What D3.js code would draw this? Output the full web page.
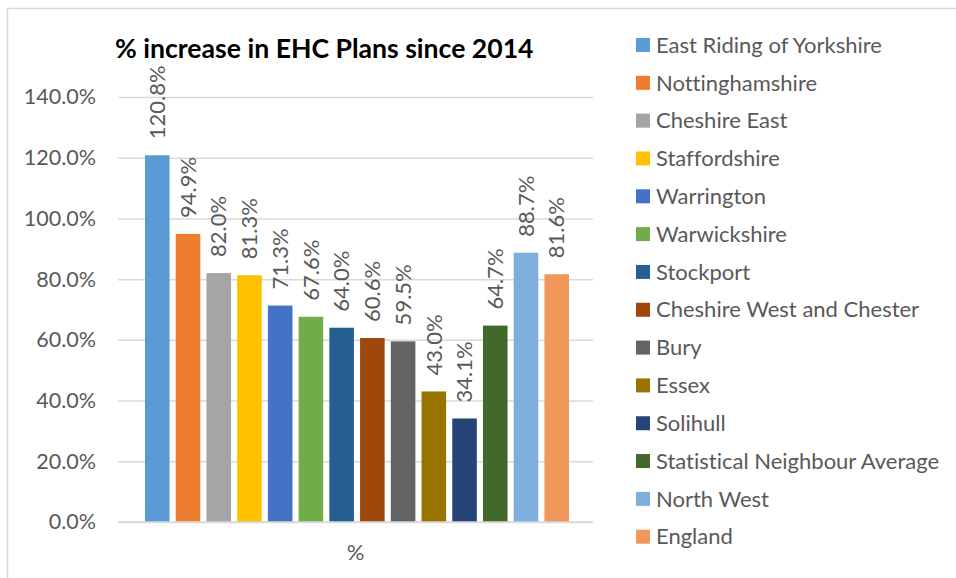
<!DOCTYPE html>
<html>
<head>
<meta charset="utf-8">
<script src="https://cdn.jsdelivr.net/npm/d3@7"></script>
<style>
  html, body { margin: 0; padding: 0; background: #fff; }
  svg { display: block; }
  text { font-family: Lato, "Open Sans", sans-serif; font-variant-ligatures: none; }
</style>
</head>
<body>
<svg id="chart" width="956" height="578"></svg>
<script>
const categories = ["East Riding of Yorkshire", "Nottinghamshire", "Cheshire East", "Staffordshire",
  "Warrington", "Warwickshire", "Stockport", "Cheshire West and Chester", "Bury", "Essex",
  "Solihull", "Statistical Neighbour Average", "North West", "England"];
const values = [120.8, 94.9, 82.0, 81.3, 71.3, 67.6, 64.0, 60.6, 59.5, 43.0, 34.1, 64.7, 88.7, 81.6];
const colors = ["#5B9BD5", "#ED7D31", "#A5A5A5", "#FFC000", "#4472C4", "#70AD47", "#255E91",
  "#9E480E", "#636363", "#997300", "#264478", "#43682B", "#7CAFDD", "#F1975A"];
const yTicks = [0, 20, 40, 60, 80, 100, 120, 140];
const title = "% increase in EHC Plans since 2014";
const axisCategory = "%";

const svg = d3.select("#chart");
const textColor = "#595959";

// outer frame
svg.append("rect").attr("x", 7.5).attr("y", 8.5).attr("width", 1000).attr("height", 1000)
  .attr("fill", "none").attr("stroke", "#d9d9d9").attr("stroke-width", 1.5);

const plot = { left: 118, right: 593, top: 97, bottom: 522 };
const y = d3.scaleLinear().domain([0, 140]).range([plot.bottom, plot.top]);
const x = d3.scaleBand().domain(categories).range([145, 569]).paddingInner(0.2).paddingOuter(0);

// gridlines + y labels
const yAxis = d3.axisLeft(y).tickValues(yTicks).tickSize(-(plot.right - plot.left))
  .tickFormat(d => d3.format(".1f")(d) + "%").tickPadding(22);
const gy = svg.append("g").attr("transform", `translate(${plot.left},0)`).call(yAxis);
gy.select(".domain").remove();
gy.selectAll(".tick line").attr("stroke", "#d9d9d9").attr("stroke-width", 1.5);
gy.selectAll(".tick text").attr("fill", textColor).style("font-size", "21.5px")
  .style("font-family", "Lato, sans-serif");

// bars
svg.append("g").selectAll("rect").data(values).join("rect")
  .attr("x", (d, i) => x(categories[i]))
  .attr("y", d => y(d))
  .attr("width", x.bandwidth())
  .attr("height", d => y(0) - y(d))
  .attr("fill", (d, i) => colors[i]);

// baseline redraw over bars
svg.append("line").attr("x1", plot.left).attr("x2", plot.right)
  .attr("y1", y(0)).attr("y2", y(0)).attr("stroke", "#d9d9d9").attr("stroke-width", 1.5);

// value labels
svg.append("g").selectAll("text").data(values).join("text")
  .attr("transform", (d, i) => `translate(${x(categories[i]) + x.bandwidth() / 2},${y(d) - 16}) rotate(-90)`)
  .attr("dy", "0.35em")
  .attr("text-anchor", "start")
  .attr("fill", textColor)
  .style("font-size", "22px")
  .text(d => d3.format(".1f")(d) + "%");

// category axis label
svg.append("text").attr("x", (plot.left + plot.right) / 2).attr("y", 552).attr("dy", "0.35em")
  .attr("text-anchor", "middle").attr("fill", textColor).style("font-size", "22px").text(axisCategory);

// title
svg.append("text").attr("x", 115).attr("y", 58).attr("fill", "#000")
  .style("font-size", "26.6px").style("font-weight", "bold").text(title);

// legend
const leg = svg.append("g");
const rowY = d3.scalePoint().domain(categories).range([45, 536.7]);
categories.forEach((c, i) => {
  leg.append("rect").attr("x", 636).attr("y", rowY(c) - 7).attr("width", 14).attr("height", 14)
    .attr("fill", colors[i]);
  leg.append("text").attr("x", 656).attr("y", rowY(c)).attr("dy", "0.35em")
    .attr("fill", textColor).style("font-size", "22px").text(c);
});
</script>
</body>
</html>
